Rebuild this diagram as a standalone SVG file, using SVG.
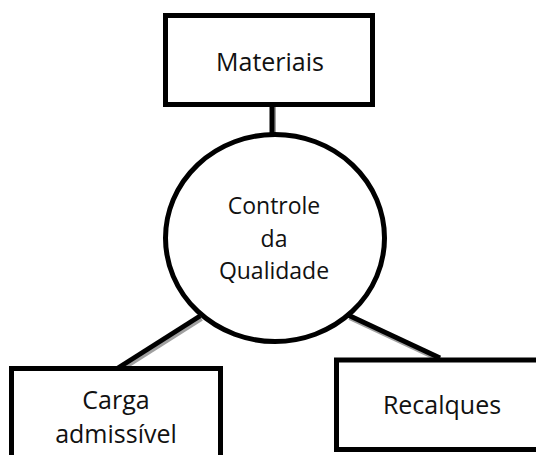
<svg xmlns="http://www.w3.org/2000/svg" width="536" height="455" viewBox="0 0 536 455">
<style>
.box{fill:#fff;stroke:#000;stroke-width:5}
.lbl{font-family:"Open Sans","Noto Sans",sans-serif;font-size:25px;fill:#111;text-anchor:middle}
.sm{font-size:23px}
.ln{stroke:#000;stroke-width:5;fill:none}
.sh{stroke:#a0a0a0;stroke-width:5;fill:none}
</style>
<rect width="536" height="455" fill="#fff"/>
<g id="connectors">
<line class="sh" x1="273.5" y1="107" x2="273.5" y2="136"/>
<line class="sh" x1="201.5" y1="318.5" x2="119.5" y2="370.5"/>
<line class="sh" x1="349.5" y1="317.5" x2="441.5" y2="360.5"/>
<line class="ln" x1="272" y1="105" x2="272" y2="134"/>
<line class="ln" x1="200" y1="316" x2="118" y2="368"/>
<line class="ln" x1="348" y1="315" x2="440" y2="358"/>
</g>
<g id="materiais">
<rect class="box" x="165.5" y="15.5" width="207" height="89"/>
<text class="lbl" x="270" y="71">Materiais</text>
</g>
<g id="controle">
<ellipse class="box" cx="275" cy="238" rx="109.5" ry="103.5"/>
<text class="lbl sm" x="274" y="214">Controle</text>
<text class="lbl sm" x="274" y="247">da</text>
<text class="lbl sm" x="274" y="279">Qualidade</text>
</g>
<g id="carga">
<rect class="box" x="11.5" y="368.5" width="209" height="110"/>
<text class="lbl" x="116" y="409">Carga</text>
<text class="lbl" x="116" y="443">admissível</text>
</g>
<g id="recalques">
<rect class="box" x="336.5" y="360" width="220" height="89.5"/>
<text class="lbl" x="442" y="414">Recalques</text>
</g>
</svg>
